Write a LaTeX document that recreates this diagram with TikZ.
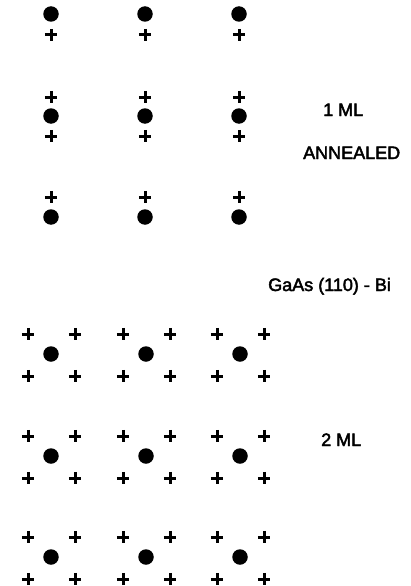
\documentclass[tikz,border=0pt]{standalone}
\usepackage{fontspec}
\setmainfont[FakeBold=2.5]{Liberation Sans}
\begin{document}
\begin{tikzpicture}[x=1pt,y=-1pt,
  atom/.style={circle,fill=black,inner sep=0pt,minimum size=15.5pt},
  pstroke/.style={draw=black,line width=3pt,line cap=butt},
  plus/.style={rectangle,inner sep=0pt,minimum size=12pt,
    append after command={
      (\tikzlastnode.north) edge[pstroke] (\tikzlastnode.south)
      (\tikzlastnode.west) edge[pstroke] (\tikzlastnode.east)}},
  lbl/.style={anchor=base west,inner sep=0pt,font=\fontsize{18}{20}\selectfont}]
\useasboundingbox (0,0) rectangle (411,586);
% ---- 1 ML annealed ----
\foreach \x [count=\i] in {51,145,239}{
  \node[atom] (a1\i) at (\x,14) {};
  \node[plus] (pa1\i) at (\x,35) {};
  \node[plus] (pb2\i) at (\x,97) {};
  \node[atom] (a2\i) at (\x,116) {};
  \node[plus] (pc2\i) at (\x,136) {};
  \node[plus] (pd3\i) at (\x,197) {};
  \node[atom] (a3\i) at (\x,217) {};
}
\node[lbl] (ml1) at (323,116) {1 ML};
\node[lbl] (ann) at (303,159) {ANNEALED};
\node[lbl] (title) at (268,291) {GaAs (110) - Bi};
\node[lbl] (ml2) at (321,446) {2 ML};
% ---- 2 ML ----
\foreach \y/\r in {354/1,456/2,557/3}{
  \foreach \x [count=\i] in {51,146,240}{
    \node[atom] (b\r\i) at (\x,\y) {};
    \node[plus] (q\r\i nw) at (\x-23,\y-20) {};
    \node[plus] (q\r\i ne) at (\x+24,\y-20) {};
    \node[plus] (q\r\i sw) at (\x-23,\y+22) {};
    \node[plus] (q\r\i se) at (\x+24,\y+22) {};
  }
}
\end{tikzpicture}
\end{document}
